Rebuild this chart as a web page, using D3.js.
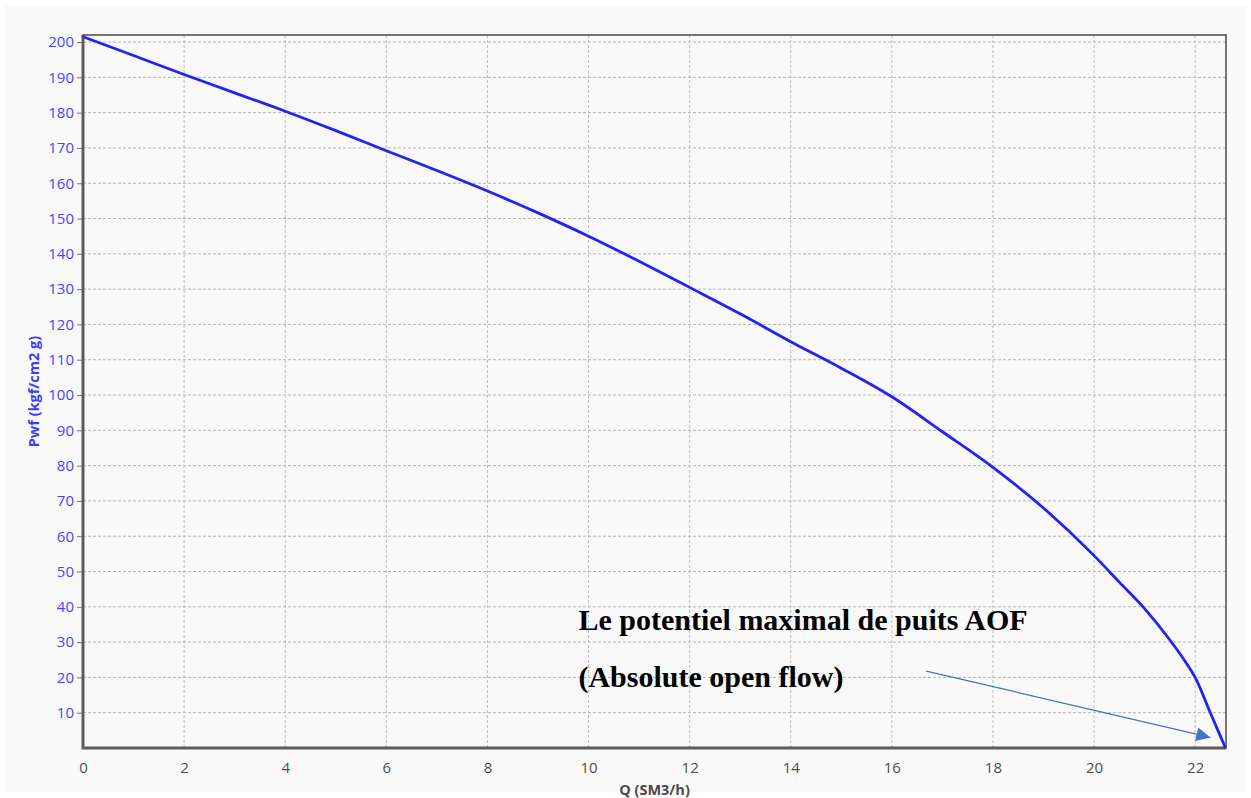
<!DOCTYPE html>
<html>
<head>
<meta charset="utf-8">
<script src="https://cdn.jsdelivr.net/npm/d3@7"></script>
<style>
  html, body { margin: 0; padding: 0; background: #fff; }
  svg { display: block; }
</style>
</head>
<body>
<div id="chart"></div>
<script>
// IPR curve values
const flowQ = [0, 1, 2, 3, 4, 5, 6, 7, 8, 9, 10, 11, 12, 13, 14, 15, 16, 17, 18, 19, 20, 20.5, 21, 21.5, 21.8, 22, 22.3, 22.6];
const pressurePwf = [201.5, 196.2, 190.8, 185.6, 180.4, 174.9, 169.2, 163.6, 157.8, 151.6, 145.0, 137.9, 130.5, 123.0, 115.1, 107.6, 99.5, 89.6, 79.5, 68.0, 54.5, 47.0, 39.5, 30.6, 24.6, 20.0, 10.0, 0];

const xTicks = d3.range(0, 23, 2);
const yTicks = d3.range(10, 201, 10);

const annotLines = ['Le potentiel maximal de puits AOF', '(Absolute open flow)'];
// annotation anchors in data units
const annotText = {q: 9.8, p: 33.4, step: 16.2};
const annotArrow = {from: [16.68, 21.8], to: [22.3, 3.0]};

const W = 1251, H = 798;
const margin = {top: 35, right: 25, bottom: 50, left: 83};
const width = W - margin.left - margin.right;
const height = H - margin.top - margin.bottom;

const x = d3.scaleLinear().domain([0, 22.61]).range([0, width]);
const y = d3.scaleLinear().domain([0, 202]).range([height, 0]);

const svg = d3.select('#chart').append('svg')
  .attr('width', W)
  .attr('height', H);

svg.append('rect')
  .attr('x', 5).attr('y', 6)
  .attr('width', W - 10).attr('height', H - 12)
  .attr('fill', '#f9f9f9');

const g = svg.append('g')
  .attr('transform', `translate(${margin.left},${margin.top})`);

// grid
g.append('g')
  .selectAll('line')
  .data(yTicks)
  .join('line')
    .attr('x1', 0).attr('x2', width)
    .attr('y1', d => y(d)).attr('y2', d => y(d))
    .attr('stroke', '#b4b4b4')
    .attr('stroke-dasharray', '3,2');

g.append('g')
  .selectAll('line')
  .data(xTicks.filter(d => d > 0))
  .join('line')
    .attr('x1', d => x(d)).attr('x2', d => x(d))
    .attr('y1', 0).attr('y2', height)
    .attr('stroke', '#bdbdbd')
    .attr('stroke-dasharray', '3,2');

// axes
const xAxis = d3.axisBottom(x).tickValues(xTicks).tickSize(0).tickPadding(14);
const yAxis = d3.axisLeft(y).tickValues(yTicks).tickSize(6).tickPadding(3);

const xAxisSvg = g.append('g')
  .attr('transform', `translate(0,${height})`)
  .call(xAxis);
xAxisSvg.select('.domain').remove();
xAxisSvg.selectAll('text')
  .style('font', '15px "Open Sans", sans-serif')
  .style('fill', '#4f4f4f');

const yAxisSvg = g.append('g').call(yAxis);
yAxisSvg.select('.domain').remove();
yAxisSvg.selectAll('line').attr('stroke', '#777');
yAxisSvg.selectAll('text')
  .style('font', '15px "Open Sans", sans-serif')
  .style('fill', '#4646ff');

// frame
g.append('rect')
  .attr('width', width).attr('height', height)
  .attr('fill', 'none')
  .attr('stroke', '#555')
  .attr('stroke-width', 1.6);
g.append('path')
  .attr('d', `M0,0V${height}H${width}`)
  .attr('fill', 'none')
  .attr('stroke', '#5c5c5c')
  .attr('stroke-width', 3);

// curve
const line = d3.line()
  .x((d, i) => x(flowQ[i]))
  .y(d => y(d))
  .curve(d3.curveMonotoneX);

g.append('path')
  .datum(pressurePwf)
  .attr('d', line)
  .attr('fill', 'none')
  .attr('stroke', '#2222f8')
  .attr('stroke-width', 2.8)
  .attr('stroke-linejoin', 'round');

// axis titles
g.append('text')
  .attr('x', width / 2)
  .attr('y', height + 47)
  .attr('text-anchor', 'middle')
  .style('font', 'bold 14.5px "Open Sans", sans-serif')
  .style('fill', '#4a4a4a')
  .text('Q (SM3/h)');

g.append('text')
  .attr('transform', `translate(${-44},${height / 2}) rotate(-90)`)
  .attr('text-anchor', 'middle')
  .style('font', 'bold 14.5px "Open Sans", sans-serif')
  .style('fill', '#3c3cff')
  .text('Pwf (kgf/cm2 g)');

// annotation
annotLines.forEach((t, i) => {
  g.append('text')
    .attr('x', x(annotText.q))
    .attr('y', y(annotText.p - i * annotText.step))
    .style('font', 'bold 30px "Liberation Serif", "Times New Roman", serif')
    .style('fill', '#000')
    .text(t);
});

const defs = svg.append('defs');
defs.append('marker')
  .attr('id', 'head')
  .attr('viewBox', '0 0 10 10')
  .attr('refX', 10).attr('refY', 5)
  .attr('markerWidth', 18).attr('markerHeight', 14)
  .attr('markerUnits', 'userSpaceOnUse')
  .attr('orient', 'auto')
  .append('path')
    .attr('d', 'M0,0L10,5L0,10Z')
    .attr('fill', '#4472c4');

g.append('line')
  .attr('x1', x(annotArrow.from[0])).attr('y1', y(annotArrow.from[1]))
  .attr('x2', x(annotArrow.to[0])).attr('y2', y(annotArrow.to[1]))
  .attr('stroke', '#4472c4')
  .attr('stroke-width', 1.2)
  .attr('marker-end', 'url(#head)');
</script>
</body>
</html>
